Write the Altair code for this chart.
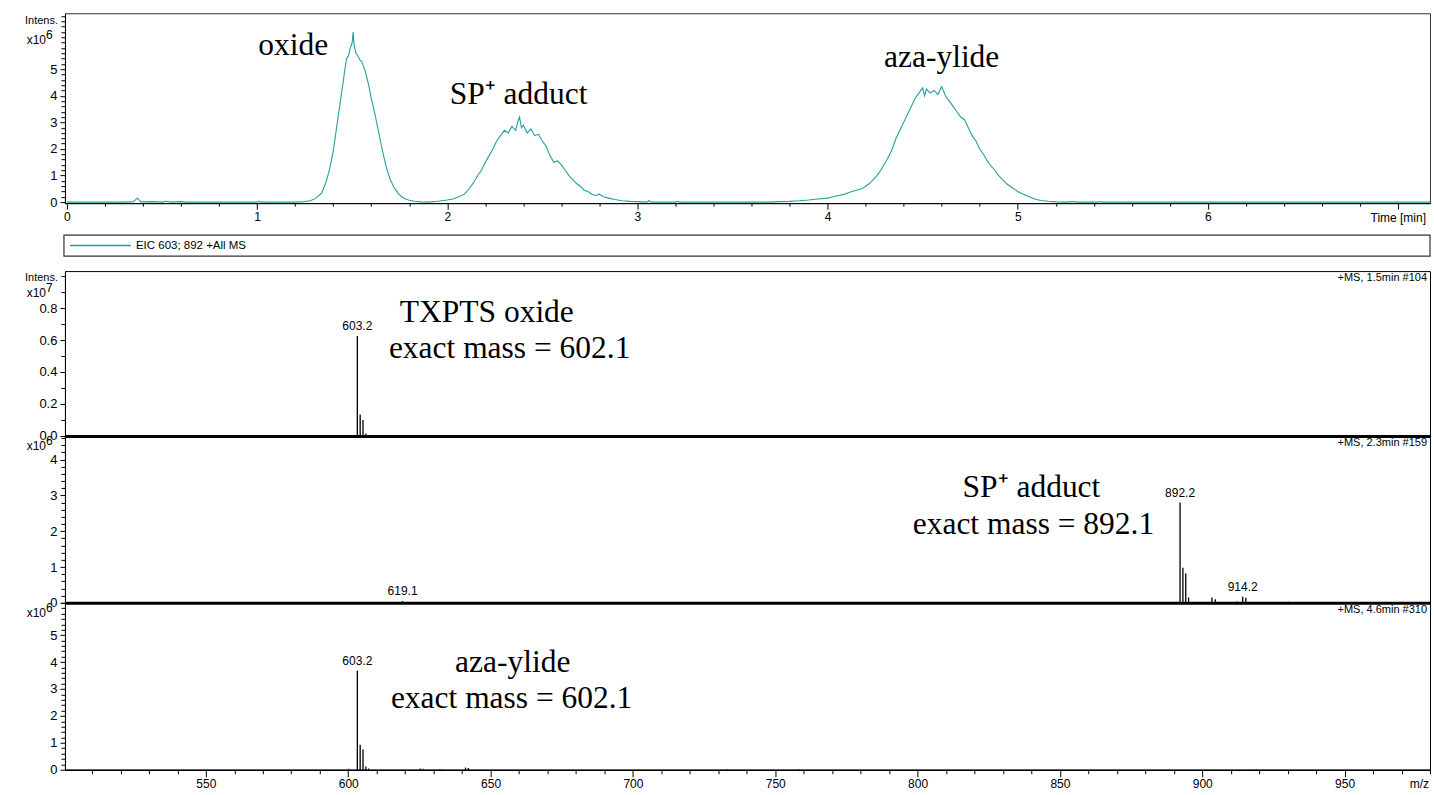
import altair as alt
import pandas as pd

# ---------------- data ----------------
# EIC chromatogram (time in min, intensity in 1e6)
eic_time = [0.00, 0.30, 0.35, 0.37, 0.39, 0.45, 0.50, 0.52, 0.55, 0.60, 0.62, 1.00, 1.01, 1.02, 1.20,
            1.25, 1.28, 1.31, 1.34, 1.36, 1.38, 1.40, 1.42, 1.44, 1.46, 1.47, 1.48, 1.49, 1.50, 1.505,
            1.51, 1.52, 1.53, 1.54, 1.55, 1.56, 1.57, 1.58, 1.59, 1.60, 1.62, 1.64, 1.66, 1.68, 1.70,
            1.72, 1.74, 1.76, 1.78, 1.80, 1.83, 1.86, 1.90, 1.95, 2.00, 2.03, 2.06, 2.09, 2.12, 2.14,
            2.16, 2.18, 2.20, 2.22, 2.24, 2.26, 2.28, 2.30, 2.32, 2.34, 2.36, 2.37, 2.38, 2.39, 2.40,
            2.42, 2.44, 2.46, 2.48, 2.50, 2.52, 2.54, 2.56, 2.58, 2.60, 2.62, 2.64, 2.66, 2.68, 2.70,
            2.72, 2.74, 2.76, 2.78, 2.80, 2.82, 2.85, 2.88, 2.92, 2.96, 3.00, 3.05, 3.06, 3.07, 3.20,
            3.21, 3.22, 3.70, 3.75, 3.80, 3.85, 3.90, 3.95, 4.00, 4.03, 4.06, 4.09, 4.12, 4.15, 4.18,
            4.20, 4.22, 4.24, 4.26, 4.28, 4.30, 4.32, 4.34, 4.36, 4.38, 4.40, 4.42, 4.44, 4.46, 4.48,
            4.50, 4.51, 4.52, 4.54, 4.56, 4.58, 4.60, 4.62, 4.64, 4.66, 4.68, 4.70, 4.72, 4.74, 4.76,
            4.78, 4.80, 4.82, 4.84, 4.86, 4.88, 4.90, 4.92, 4.94, 4.96, 4.98, 5.00, 5.03, 5.06, 5.09,
            5.12, 5.16, 5.20, 5.25, 5.30, 5.31, 5.42, 5.43, 5.44, 7.17]
eic_int = [0.00, 0.00, 0.02, 0.15, 0.01, 0.02, 0.00, 0.03, 0.00, 0.02, 0.00, 0.00, 0.02, 0.00, 0.00,
           0.02, 0.05, 0.15, 0.35, 0.70, 1.20, 1.90, 2.90, 3.90, 4.90, 5.40, 5.50, 5.80, 6.00, 6.40,
           5.90, 5.60, 5.50, 5.35, 5.30, 5.10, 4.90, 4.60, 4.30, 3.90, 3.30, 2.60, 1.90, 1.30, 0.85,
           0.55, 0.35, 0.20, 0.12, 0.07, 0.03, 0.01, 0.00, 0.03, 0.08, 0.12, 0.20, 0.30, 0.55, 0.75,
           1.00, 1.20, 1.50, 1.75, 2.00, 2.30, 2.50, 2.70, 2.60, 2.85, 2.70, 3.00, 3.20, 2.80, 2.90,
           2.60, 2.75, 2.50, 2.55, 2.30, 2.10, 1.75, 1.50, 1.55, 1.40, 1.20, 1.00, 0.85, 0.70, 0.60,
           0.45, 0.40, 0.30, 0.25, 0.30, 0.20, 0.15, 0.10, 0.05, 0.03, 0.02, 0.00, 0.06, 0.00, 0.00,
           0.03, 0.00, 0.00, 0.02, 0.03, 0.05, 0.08, 0.12, 0.15, 0.20, 0.25, 0.30, 0.38, 0.45, 0.50,
           0.60, 0.70, 0.85, 1.00, 1.20, 1.45, 1.70, 2.00, 2.40, 2.70, 3.00, 3.30, 3.60, 3.90, 4.10,
           4.30, 4.00, 4.25, 4.10, 4.20, 4.05, 4.35, 4.00, 3.80, 3.60, 3.40, 3.20, 3.10, 2.80, 2.50,
           2.30, 2.00, 1.80, 1.55, 1.35, 1.20, 1.00, 0.85, 0.70, 0.60, 0.50, 0.40, 0.30, 0.20, 0.12,
           0.06, 0.03, 0.01, 0.00, 0.02, 0.00, 0.00, 0.02, 0.00, 0.00]

top_ann_text = ["oxide", "SP\u207a adduct", "aza-ylide"]
top_ann_t = [1.19, 2.375, 4.60]
top_ann_i = [5.86, 4.02, 5.41]

# spectrum 1 (intensity in 1e7)
s1_mz = [603.2, 604.2, 605.2, 606.2]
s1_int = [0.625, 0.135, 0.100, 0.015]
s1_lab = ["603.2"]
s1_lab_mz = [603.2]
s1_lab_int = [0.625]
s1_ann = ["TXPTS oxide", "exact mass = 602.1"]
s1_ann_mz = [648.7, 656.7]
s1_ann_int = [0.77, 0.544]
s1_title = "+MS, 1.5min #104"

# spectrum 2 (intensity in 1e6)
s2_mz = [619.1, 892.2, 893.2, 894.2, 895.2, 903.4, 904.6, 912.2, 914.2, 915.3, 930.4]
s2_int = [0.05, 2.80, 0.98, 0.82, 0.15, 0.15, 0.10, 0.04, 0.17, 0.14, 0.03]
s2_lab = ["619.1", "892.2", "914.2"]
s2_lab_mz = [619.1, 892.2, 914.2]
s2_lab_int = [0.05, 2.80, 0.17]
s2_ann = ["SP\u207a adduct", "exact mass = 892.1"]
s2_ann_mz = [840.0, 840.7]
s2_ann_int = [3.21, 2.18]
s2_title = "+MS, 2.3min #159"

# spectrum 3 (intensity in 1e6)
s3_mz = [600.2, 603.2, 604.2, 605.2, 606.2, 607.2, 625.3, 626.3, 632.2, 641.2, 642.2, 733.1, 758.3, 919.0]
s3_int = [0.04, 3.68, 0.93, 0.75, 0.12, 0.05, 0.05, 0.04, 0.03, 0.08, 0.06, 0.02, 0.02, 0.02]
s3_lab = ["603.2"]
s3_lab_mz = [603.2]
s3_lab_int = [3.68]
s3_ann = ["aza-ylide", "exact mass = 602.1"]
s3_ann_mz = [657.8, 657.4]
s3_ann_int = [3.96, 2.61]
s3_title = "+MS, 4.6min #310"

time_ticks = [0, 1, 2, 3, 4, 5, 6, 7]
mz_ticks = [550, 600, 650, 700, 750, 800, 850, 900, 950]
legend_label = "EIC 603; 892 +All MS"

# ---------------- style ----------------
W = 1366
TEAL = "#23a09b"
FONT = "Liberation Sans"
SERIF = "Liberation Serif"
ANN_SIZE = 31.5
LBL = 12

tx = alt.Scale(domain=[-0.0105, 7.168], nice=False, zero=False)
ty = alt.Scale(domain=[-0.038, 7.105], nice=False, zero=False)
mzs = alt.Scale(domain=[500.5, 980.0], nice=False, zero=False)


def minor(lo, hi, step, skip_every):
    vals = []
    k = 1
    while lo + k * step <= hi + 1e-9:
        if k % skip_every != 0:
            vals.append(round(lo + k * step, 4))
        k += 1
    return vals


def yaxis_major(values, fmt):
    return alt.Axis(values=values, format=fmt, title=None, tickSize=5, labelFontSize=13,
                    labelPadding=3, domainColor="black", tickColor="black", orient="left")


def yaxis_minor(values):
    return alt.Axis(values=values, labels=False, title=None, tickSize=4, domain=False,
                    tickColor="black", orient="left")


def txt(s, x, y, size, align="right", font=FONT, baseline="middle"):
    return alt.Chart(pd.DataFrame({"s": [s]})).mark_text(
        align=align, baseline=baseline, font=font, fontSize=size, color="black"
    ).encode(x=alt.value(x), y=alt.value(y), text="s:N")


def scale_label(exp, y, intens_y=None):
    layers = []
    if intens_y is not None:
        layers.append(txt("Intens.", -7, intens_y, 11))
    layers.append(txt("x10", -19, y, 12))
    layers.append(txt(exp, -19, y - 5, 12, align="left"))
    return layers


# ---------------- top chromatogram ----------------
eic = pd.DataFrame({"t": eic_time, "i": eic_int})

top_minor = alt.Chart(eic).mark_line(opacity=0).encode(
    x=alt.X("t:Q", scale=tx, axis=alt.Axis(values=minor(0, 7.1, 0.2, 5), labels=False, title=None,
                                           tickSize=3, domain=False, tickColor="black", orient="bottom")),
    y=alt.Y("i:Q", scale=ty, axis=yaxis_minor(minor(0, 7.0, 0.2, 5) + [6, 7])),
)
top_line = alt.Chart(eic).mark_line(color=TEAL, strokeWidth=1.1).encode(
    x=alt.X("t:Q", scale=tx, axis=alt.Axis(values=time_ticks, format="d", title=None, tickSize=6,
                                           labelFontSize=LBL, labelPadding=2, domainColor="black",
                                           tickColor="black", orient="bottom",
                                           labelExpr="datum.value == 7 ? '' : datum.label")),
    y=alt.Y("i:Q", scale=ty, axis=yaxis_major([0, 1, 2, 3, 4, 5], "d")),
)
top_ann = alt.Chart(pd.DataFrame({"s": top_ann_text, "t": top_ann_t, "i": top_ann_i})).mark_text(
    font=SERIF, fontSize=ANN_SIZE, color="black", baseline="middle"
).encode(x=alt.X("t:Q", scale=tx, axis=None), y=alt.Y("i:Q", scale=ty, axis=None), text="s:N")
time_title = txt("Time [min]", W - 4, 205, LBL)
bounds_marker = alt.Chart(pd.DataFrame({"a": [0]})).mark_rule(strokeOpacity=0).encode(
    x=alt.value(-64), x2=alt.value(-62), y=alt.value(-12), y2=alt.value(-10))

top = alt.layer(
    top_minor, top_line, top_ann, time_title, bounds_marker,
    *scale_label("6", 27, intens_y=8)
).resolve_axis(x="independent", y="independent").properties(
    width=W, height=190, view=alt.ViewBackground(stroke="#333333", strokeWidth=1))

# ---------------- spacer with legend ----------------
one = pd.DataFrame({"a": [0]})
leg_box = alt.Chart(one).mark_rect(filled=False, stroke="#333333", strokeWidth=1.2).encode(
    x=alt.value(-1), x2=alt.value(W), y=alt.value(32), y2=alt.value(53))
leg_line = alt.Chart(one).mark_rule(color=TEAL, strokeWidth=1.5).encode(
    x=alt.value(5), x2=alt.value(66), y=alt.value(42.5))
leg_text = alt.Chart(pd.DataFrame({"s": [legend_label]})).mark_text(
    align="left", baseline="middle", font=FONT, fontSize=11.5, color="black"
).encode(x=alt.value(71), y=alt.value(42.5), text="s:N")
spacer = alt.layer(leg_box, leg_line, leg_text).properties(
    width=W, height=68, view=alt.ViewBackground(strokeOpacity=0))


# ---------------- spectra ----------------
def spectrum(mz, inten, lab, lab_mz, lab_int, ann, ann_mz, ann_int, title, ymax, ymajor, yfmt,
             yminor, height, bottom, corner):
    ys = alt.Scale(domain=[0, ymax], nice=False, zero=False)
    df = pd.DataFrame({"mz": mz, "v": inten})
    if bottom:
        xmaj = alt.Axis(values=mz_ticks, format="d", title=None, tickSize=7, labelFontSize=LBL,
                        labelPadding=2, domainColor="black", domainWidth=1.5, tickColor="black",
                        orient="bottom")
        xmin = alt.Axis(values=minor(500, 980, 10, 5), labels=False, title=None, tickSize=4,
                        domain=False, tickColor="black", orient="bottom")
    else:
        xmaj = alt.Axis(ticks=False, labels=False, title=None, domainColor="black", domainWidth=3,
                        orient="bottom")
        xmin = alt.Axis(ticks=False, labels=False, title=None, domain=False, orient="bottom")
    minor_layer = alt.Chart(df).mark_point(opacity=0).encode(
        x=alt.X("mz:Q", scale=mzs, axis=xmin),
        y=alt.Y("v:Q", scale=ys, axis=yaxis_minor(yminor)),
    )
    sticks = alt.Chart(df).mark_rule(color="black", strokeWidth=1.3).encode(
        x=alt.X("mz:Q", scale=mzs, axis=xmaj),
        y=alt.Y("v:Q", scale=ys, axis=yaxis_major(ymajor, yfmt)),
        y2=alt.datum(0),
    )
    labels = alt.Chart(pd.DataFrame({"s": lab, "mz": lab_mz, "v": lab_int})).mark_text(
        font=FONT, fontSize=LBL, color="black", baseline="middle", dy=-10
    ).encode(x=alt.X("mz:Q", scale=mzs, axis=None), y=alt.Y("v:Q", scale=ys, axis=None), text="s:N")
    anns = alt.Chart(pd.DataFrame({"s": ann, "mz": ann_mz, "v": ann_int})).mark_text(
        font=SERIF, fontSize=ANN_SIZE, color="black", baseline="middle"
    ).encode(x=alt.X("mz:Q", scale=mzs, axis=None), y=alt.Y("v:Q", scale=ys, axis=None), text="s:N")
    ttl = txt(title, W - 3, 7, 11)
    extra = []
    if bottom:
        extra.append(txt("m/z", W - 1, height + 14, LBL))
    return alt.layer(
        minor_layer, sticks, labels, anns, ttl, *extra, *corner
    ).resolve_axis(x="independent", y="independent").properties(
        width=W, height=height, view=alt.ViewBackground(stroke="black", strokeWidth=1))


p1 = spectrum(s1_mz, s1_int, s1_lab, s1_lab_mz, s1_lab_int, s1_ann, s1_ann_mz, s1_ann_int, s1_title,
              1.031, [0.0, 0.2, 0.4, 0.6, 0.8], ".1f", [0.1, 0.3, 0.5, 0.7, 0.9, 1.0], 165, False,
              scale_label("7", 22, intens_y=7))
p2 = spectrum(s2_mz, s2_int, s2_lab, s2_lab_mz, s2_lab_int, s2_ann, s2_ann_mz, s2_ann_int, s2_title,
              4.66, [0, 1, 2, 3, 4], "d", minor(0, 4.6, 0.2, 5), 167, False,
              scale_label("6", 10))
p3 = spectrum(s3_mz, s3_int, s3_lab, s3_lab_mz, s3_lab_int, s3_ann, s3_ann_mz, s3_ann_int, s3_title,
              6.2, [0, 1, 2, 3, 4, 5], "d", minor(0, 6.2, 0.2, 5) + [6], 167, True,
              scale_label("6", 10))

chart = alt.vconcat(top, spacer, p1, p2, p3, spacing=0, bounds="flush").properties(
    padding=0, background="white"
).configure_axis(grid=False, labelFont=FONT, labelColor="black")

chart.save("out.html", embed_options={"renderer": "svg", "actions": False})
